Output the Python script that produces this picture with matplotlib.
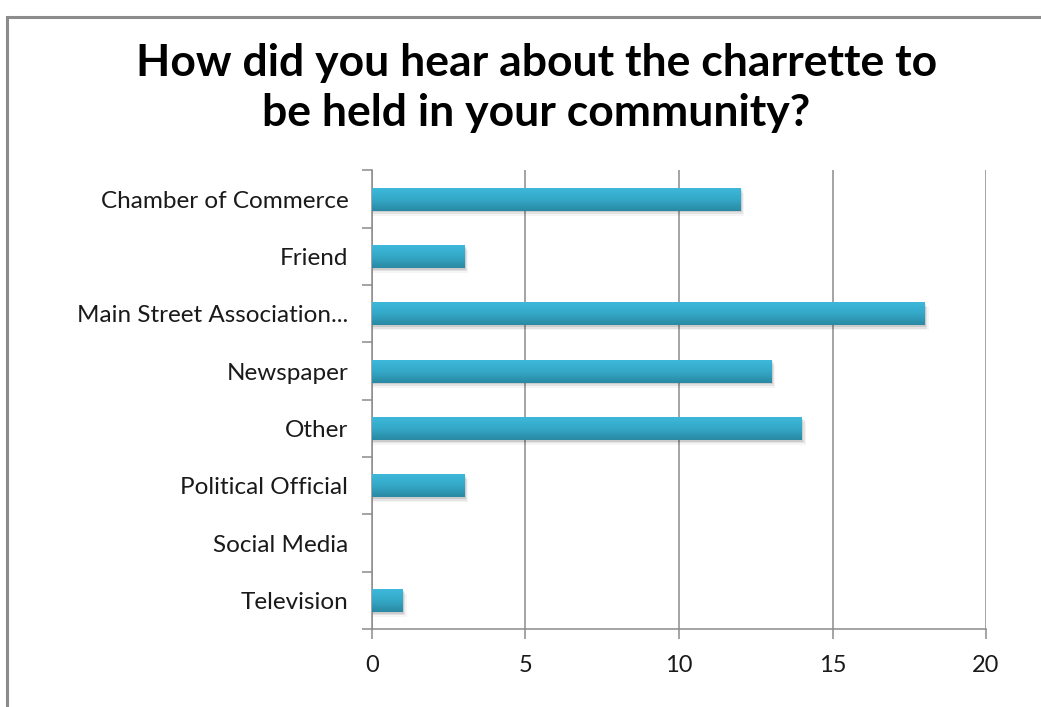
import numpy as np
import matplotlib.pyplot as plt
from matplotlib.colors import LinearSegmentedColormap
from matplotlib.patches import Rectangle

plt.rcParams['font.family'] = ['Lato', 'DejaVu Sans']

sources = ['Chamber of Commerce', 'Friend', 'Main Street Association...',
           'Newspaper', 'Other', 'Political Official', 'Social Media',
           'Television']
responses = [12, 3, 18, 13, 14, 3, 0, 1]

fig = plt.figure(figsize=(10.41, 7.07), dpi=100)
fig.patches.append(Rectangle((0.0067, -0.01), 1.1, 1.0027 - 0.0067 - 0.01,
                             transform=fig.transFigure, fill=False,
                             edgecolor='#8c8c8c', linewidth=2.2))

ax = fig.add_axes([0.3573, 0.1103, 0.5899, 0.6487])
y = np.arange(len(sources))
bar_h = 0.4

# soft drop shadow under each bar
for yi, v in zip(y, responses):
    if v <= 0:
        continue
    for k, a in enumerate([0.10, 0.07, 0.04]):
        off = 0.03 + 0.03 * k
        ax.add_patch(Rectangle((0, yi - bar_h / 2 + off), v + 0.05 + 0.04 * k, bar_h,
                               facecolor='#000000', alpha=a, linewidth=0, zorder=2))

bars = ax.barh(y, responses, height=bar_h, color='#33a9c8', zorder=3)

# vertical gradient on the bars, light at top, darker at bottom
grad = LinearSegmentedColormap.from_list('bar', ['#3db8da', '#34a8c7', '#2a89a3'])
gimg = np.linspace(0, 1, 64).reshape(-1, 1)
for b in bars:
    if b.get_width() <= 0:
        continue
    x0, y0 = b.get_x(), b.get_y()
    im = ax.imshow(gimg, cmap=grad, aspect='auto', zorder=4,
                   extent=(x0, x0 + b.get_width(), y0 + b.get_height(), y0),
                   interpolation='bilinear')
    im.set_clip_path(b)

ax.set_xlim(0, 20)
ax.set_ylim(len(sources) - 0.5, -0.5)
ax.set_xticks([0, 5, 10, 15, 20])
ax.xaxis.grid(True, color='#8c8c8c', linewidth=1.1, zorder=0)
ax.set_axisbelow(True)

ax.set_yticks(y)
ax.set_yticklabels(sources)
ax.set_yticks(np.arange(len(sources) + 1) - 0.5, minor=True)
ax.tick_params(axis='y', which='major', length=0, pad=17, labelsize=17.5, labelcolor='#1a1a1a')
ax.tick_params(axis='y', which='minor', length=7, color='#8c8c8c', width=1.1)
ax.tick_params(axis='x', length=7, color='#8c8c8c', width=1.1, pad=12,
               labelsize=17, labelcolor='#1a1a1a')

for s in ['top', 'right']:
    ax.spines[s].set_visible(False)
for s in ['left', 'bottom']:
    ax.spines[s].set_color('#8c8c8c')
    ax.spines[s].set_linewidth(1.1)

fig.text(0.515, 0.875, 'How did you hear about the charrette to\nbe held in your community?',
         ha='center', va='center', fontsize=32, fontweight='bold',
         linespacing=1.3, color='black')

fig.savefig('out.png', dpi=100)
